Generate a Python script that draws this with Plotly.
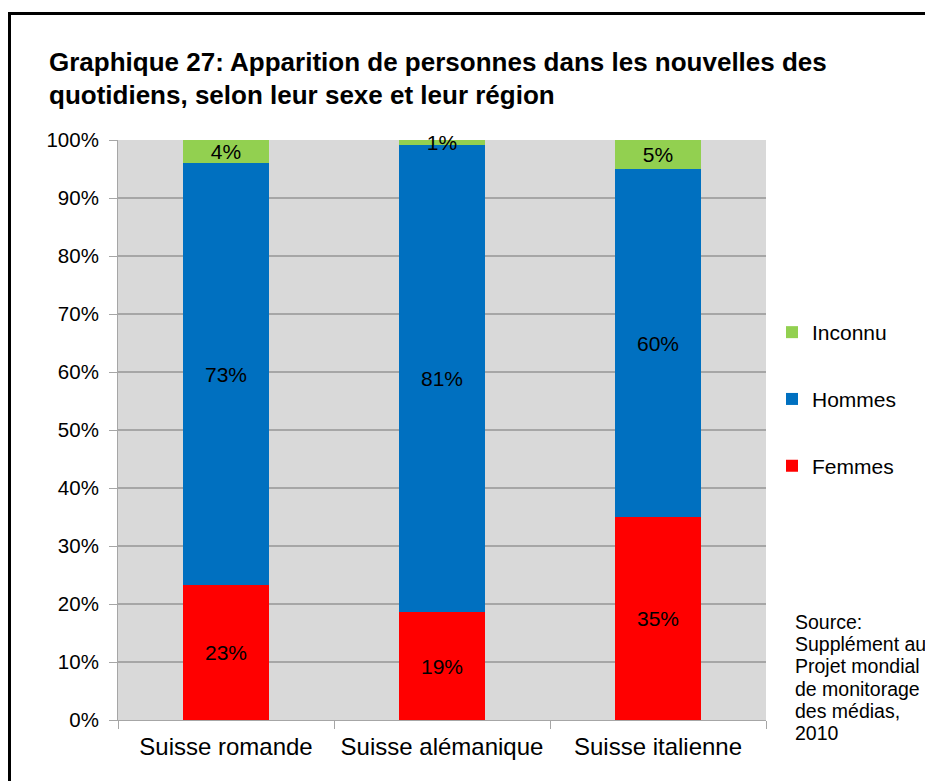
import plotly.graph_objects as go

categories = ["Suisse romande", "Suisse alémanique", "Suisse italienne"]
femmes = [23.2, 18.6, 35.0]
hommes = [72.8, 80.6, 60.0]
inconnu = [4.0, 0.8, 5.0]
y_ticks = [0, 10, 20, 30, 40, 50, 60, 70, 80, 90, 100]
y_tick_labels = [f"{v}%" for v in y_ticks]
title_lines = ["Graphique 27: Apparition de personnes dans les nouvelles des",
               "quotidiens, selon leur sexe et leur région"]
source_lines = ["Source:", "Supplément au", "Projet mondial", "de monitorage",
                "des médias,", "2010"]

FONT = "Liberation Sans, Arial, sans-serif"
OFF = 8  # page body margin
W, H = 933, 781
# plot area in screen coords: x 118..766, y 140..720
L, T = 118 - OFF, 140 - OFF
R = W - (766 - OFF)
B = H - (720 - OFF)
PW, PH = W - L - R, H - T - B


def px(x):
    return (x - OFF - L) / PW


def py(y):
    return (H - B - (y - OFF)) / PH


fig = go.Figure()
series = [("Femmes", femmes, "#ff0000", 3), ("Hommes", hommes, "#0070c0", 2),
          ("Inconnu", inconnu, "#92d050", 1)]
for name, vals, col, rank in series:
    fig.add_trace(go.Bar(
        x=categories, y=vals, name=name, legendgroup=name, legendrank=rank,
        marker=dict(color=col, line=dict(width=0)),
        width=0.4,
        texttemplate="%{y:.0f}%", textposition="inside", insidetextanchor="middle",
        textangle=0, cliponaxis=False,
        textfont=dict(family=FONT, size=21, color="black"),
        hoverinfo="skip",
    ))

annotations = []
for i, line in enumerate(title_lines):
    annotations.append(dict(
        text=f"<b>{line}</b>", xref="paper", yref="paper",
        x=px(47), y=py([62, 95][i]), xanchor="left", yanchor="middle",
        showarrow=False, font=dict(family=FONT, size=26, color="black")))
for i, line in enumerate(source_lines):
    annotations.append(dict(
        text=line, xref="paper", yref="paper",
        x=px(793), y=py(622 + i * 22.2), xanchor="left", yanchor="middle",
        showarrow=False, font=dict(family=FONT, size=19.5, color="black")))

fig.update_layout(
    width=W, height=H,
    margin=dict(l=L, r=R, t=T, b=B, autoexpand=False),
    barmode="stack",
    paper_bgcolor="white",
    plot_bgcolor="#d9d9d9",
    font=dict(family=FONT, size=20, color="black"),
    uniformtext=dict(minsize=21, mode="show"),
    showlegend=True,
    legend=dict(
        x=px(772), y=py(312), xanchor="left", yanchor="top",
        traceorder="grouped", tracegroupgap=36.5,
        font=dict(family=FONT, size=21, color="black"),
        itemwidth=30, bgcolor="rgba(0,0,0,0)",
    ),
    xaxis=dict(
        showgrid=False, showline=True, linecolor="#a6a6a6", linewidth=1,
        ticks="outside", tickson="boundaries", ticklen=8, tickcolor="#a6a6a6",
        tickfont=dict(family=FONT, size=24, color="black"),
        ticklabelstandoff=5,
        range=[-0.5, 2.5],
    ),
    yaxis=dict(
        range=[0, 100], tickvals=y_ticks, ticktext=y_tick_labels,
        showgrid=True, gridcolor="#a6a6a6", gridwidth=2,
        showline=True, linecolor="#a6a6a6", linewidth=1,
        ticks="outside", ticklen=8, tickcolor="#a6a6a6",
        tickfont=dict(family=FONT, size=20.5, color="black"),
        ticklabelstandoff=6,
        zeroline=False,
    ),
    annotations=annotations,
    shapes=[dict(type="rect", xref="paper", yref="paper",
                 x0=px(9.5), y0=py(800), x1=px(960), y1=py(13.5),
                 line=dict(color="black", width=3), fillcolor="rgba(0,0,0,0)", layer="above")],
)

fig.write_html("out.html")
